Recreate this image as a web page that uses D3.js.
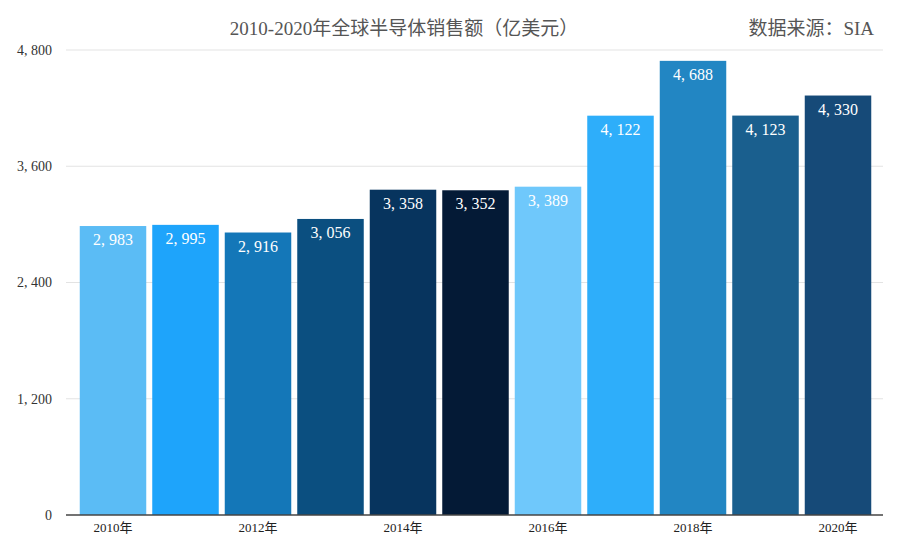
<!DOCTYPE html>
<html lang="zh">
<head>
<meta charset="utf-8">
<title>2010-2020年全球半导体销售额</title>
<script src="https://cdn.jsdelivr.net/npm/d3@7"></script>
<style>
    body { margin: 0; background: #fff; }
    text { font-family: "Liberation Serif", "DejaVu Serif", "Noto Sans CJK SC", serif; }
    .grid line { stroke: #e3e3e3; }
    .axis path, .axis line { fill: none; }
</style>
</head>
<body>
<div id="chart"></div>
<script>
// data
const years = ["2010年","2011年","2012年","2013年","2014年","2015年","2016年","2017年","2018年","2019年","2020年"];
const sales = [2983, 2995, 2916, 3056, 3358, 3352, 3389, 4122, 4688, 4123, 4330];
const barColors = ["#5bbcf5","#1ea4fb","#1477b8","#0b4f80","#07345e","#041a36",
                   "#6fc8fb","#2eaefa","#2286c3","#1a5f8e","#164a78"];
const yTicks = [0, 1200, 2400, 3600, 4800];
const shownYears = ["2010年","2012年","2014年","2016年","2018年","2020年"];

const WIDTH = 900, HEIGHT = 549;
const MARGIN = {top: 50, right: 17, bottom: 34, left: 66};

let svg = d3.select("#chart").append("svg")
    .attr("width", WIDTH)
    .attr("height", HEIGHT);

let x = d3.scaleBand()
    .domain(years)
    .range([76.75, 874.25])
    .paddingInner(6 / 72.5)
    .paddingOuter(3 / 72.5);

let y = d3.scaleLinear()
    .domain([0, 4800])
    .range([HEIGHT - MARGIN.bottom, MARGIN.top]);

// grid lines
svg.append("g")
    .attr("class", "grid")
    .selectAll("line")
    .data(yTicks.slice(1))
    .enter().append("line")
    .attr("x1", MARGIN.left)
    .attr("x2", WIDTH - MARGIN.right)
    .attr("y1", d => y(d))
    .attr("y2", d => y(d));

// y labels
svg.append("g")
    .selectAll("text")
    .data(yTicks)
    .enter().append("text")
    .attr("x", 52)
    .attr("y", d => y(d))
    .attr("dy", "0.35em")
    .attr("text-anchor", "end")
    .style("font-size", "14px")
    .style("fill", "#333")
    .text(d => d3.format(",")(d).replace(",", ", "));

// bars
svg.append("g")
    .selectAll("rect")
    .data(sales)
    .enter().append("rect")
    .attr("x", (d, i) => x(years[i]))
    .attr("y", d => y(d))
    .attr("width", x.bandwidth())
    .attr("height", d => y(0) - y(d))
    .attr("fill", (d, i) => barColors[i]);

// value labels
svg.append("g")
    .selectAll("text")
    .data(sales)
    .enter().append("text")
    .attr("x", (d, i) => x(years[i]) + x.bandwidth() / 2)
    .attr("y", d => y(d) + 19)
    .attr("text-anchor", "middle")
    .style("font-size", "16px")
    .style("fill", "#fff")
    .text(d => d3.format(",")(d).replace(",", ", "));

// x axis
svg.append("line")
    .attr("x1", MARGIN.left)
    .attr("x2", WIDTH - MARGIN.right)
    .attr("y1", y(0))
    .attr("y2", y(0))
    .attr("stroke", "#444")
    .attr("stroke-width", 1.5);

svg.append("g")
    .selectAll("text")
    .data(shownYears)
    .enter().append("text")
    .attr("x", d => x(d) + x.bandwidth() / 2)
    .attr("y", y(0) + 17)
    .attr("text-anchor", "middle")
    .style("font-size", "13px")
    .style("fill", "#222")
    .text(d => d);

// title
svg.append("text")
    .attr("x", 404)
    .attr("y", 35)
    .attr("text-anchor", "middle")
    .style("font-size", "19px")
    .style("fill", "#555")
    .text("2010-2020年全球半导体销售额（亿美元）");

svg.append("text")
    .attr("x", 874)
    .attr("y", 35)
    .attr("text-anchor", "end")
    .style("font-size", "19px")
    .style("fill", "#555")
    .text("数据来源：SIA");
</script>
</body>
</html>
